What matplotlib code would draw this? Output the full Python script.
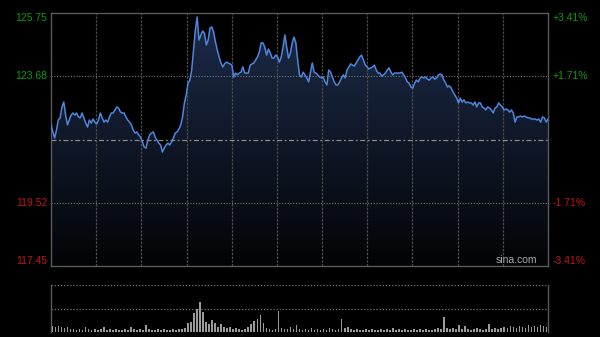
# intraday price chart with volume panel (sina style)
import numpy as np
import matplotlib
matplotlib.use("Agg")
import matplotlib.pyplot as plt
from matplotlib.colors import LinearSegmentedColormap

plt.rcParams['font.family'] = ['Liberation Sans', 'DejaVu Sans']

# price scale
prev_close = 121.60
y_low, y_high = 117.45, 125.75
left_ticks = [125.75, 123.68, 119.52, 117.45]
left_labels = ['125.75', '123.68', '119.52', '117.45']
right_labels = ['+3.41%', '+1.71%', '-1.71%', '-3.41%']

# intraday prices (session of 330 minutes)
prices = [
    122.08, 121.85, 121.65, 121.91, 122.24, 122.31, 122.67, 122.83, 122.40, 122.08,
    122.24, 122.40, 122.47, 122.40, 122.47, 122.34, 122.31, 122.47, 122.31, 122.14,
    122.01, 122.24, 122.14, 122.27, 122.17, 122.11, 122.24, 122.47, 122.31, 122.17,
    122.24, 122.17, 122.34, 122.47, 122.47, 122.57, 122.67, 122.63, 122.50, 122.47,
    122.47, 122.34, 122.24, 122.17, 122.08, 121.91, 121.81, 121.85, 121.75, 121.68,
    121.52, 121.35, 121.32, 121.58, 121.75, 121.81, 121.85, 121.68, 121.58, 121.48,
    121.42, 121.19, 121.32, 121.42, 121.48, 121.42, 121.52, 121.65, 121.81, 121.85,
    121.94, 122.08, 122.34, 122.80, 123.06,
    123.45, 123.55, 123.88, 124.54, 125.19, 125.62, 124.86, 125.03, 125.16, 125.09,
    124.70, 124.86, 125.26, 125.29, 125.13, 124.80, 124.54, 124.31, 124.11, 123.98,
    124.08, 124.14, 124.11, 124.08, 124.04, 123.65, 123.78, 123.72, 123.78, 123.81,
    123.98, 123.78, 123.78, 123.78, 124.04, 124.08, 124.11, 124.21, 124.31, 124.47,
    124.77, 124.77, 124.63, 124.37, 124.57, 124.44, 124.27, 124.27, 124.37, 124.31,
    124.14, 124.31, 124.63, 125.03, 124.63, 124.27, 124.44, 124.77, 124.96, 124.77,
    124.21, 123.72, 123.65, 123.81, 123.72, 123.62,
    123.49, 123.81, 124.11, 123.81, 123.78, 123.72, 123.65, 123.62, 123.65, 123.49,
    123.39, 123.88, 123.81, 123.65, 123.49, 123.39, 123.39, 123.49, 123.62, 123.72,
    123.62, 123.88, 123.98, 124.08, 124.04, 124.01, 124.11, 124.21, 124.31, 124.37,
    124.21, 124.04, 123.98, 123.91, 123.95, 123.98, 124.04, 123.88, 123.78, 123.78,
    123.68, 123.72, 123.78, 123.88, 123.95, 123.81, 123.72, 123.78, 123.78, 123.78,
    123.78, 123.81, 123.72, 123.62, 123.49, 123.45, 123.32, 123.29, 123.45, 123.55,
    123.49, 123.62, 123.65, 123.62, 123.65, 123.58,
    123.55, 123.62, 123.65, 123.58, 123.62, 123.72, 123.75, 123.72, 123.55, 123.45,
    123.32, 123.36, 123.29, 123.16, 123.06, 122.96, 122.80, 122.96, 122.83, 122.90,
    122.80, 122.83, 122.80, 122.80, 122.73, 122.83, 122.67, 122.80, 122.80, 122.67,
    122.63, 122.57, 122.67, 122.63, 122.57, 122.47, 122.63, 122.67, 122.80, 122.73,
    122.67, 122.57, 122.60, 122.57, 122.50, 122.57, 122.47, 122.17, 122.34, 122.34,
    122.37, 122.34, 122.37, 122.34, 122.31, 122.31, 122.27, 122.27, 122.27, 122.24,
    122.27, 122.17, 122.34, 122.31, 122.17, 122.27,
]

# volume, one value per 2 minutes (arbitrary units)
volume = [
    6, 5, 6, 5, 4, 5, 3, 3, 2, 3, 2, 5, 3, 2, 3, 2, 3, 5, 2, 3,
    2, 3, 2, 2, 3, 2, 5, 3, 2, 3, 2, 7, 3, 2, 2, 3, 2, 3, 2, 2,
    3, 2, 3, 3, 4, 9, 10, 19, 24, 31, 20, 10, 8, 12, 9, 5, 8, 5, 4, 5,
    3, 4, 3, 2, 3, 5, 8, 11, 13, 17, 9, 4, 3, 2, 3, 21, 4, 3, 3, 5,
    3, 7, 3, 2, 3, 2, 4, 2, 3, 2, 3, 2, 4, 3, 2, 3, 13, 4, 5, 3,
    2, 3, 2, 2, 3, 2, 3, 2, 2, 3, 2, 3, 2, 4, 2, 3, 2, 3, 2, 2,
    3, 2, 3, 2, 3, 2, 2, 3, 4, 3, 15, 4, 3, 4, 3, 7, 3, 6, 3, 2,
    3, 4, 3, 2, 3, 8, 3, 4, 3, 4, 5, 4, 6, 5, 4, 6, 5, 4, 7, 5,
    6, 5, 7, 6, 5,
]

session_minutes = 330
vol_max = 48

fig = plt.figure(figsize=(6, 3.37), dpi=100, facecolor='black')
ax = fig.add_axes([51 / 600, 1 - 266 / 337, 497 / 600, 253 / 337])
axv = fig.add_axes([51 / 600, 1 - 332 / 337, 497 / 600, 47 / 337])

for a in (ax, axv):
    a.set_facecolor('black')
    a.set_xticks([])
    a.set_yticks([])
    a.set_xlim(0, session_minutes)

# ---- price panel ----
x = np.linspace(0, session_minutes, len(prices))
ax.set_ylim(y_low, y_high)

grad = np.linspace(1, 0, 256).reshape(-1, 1)
cmap = LinearSegmentedColormap.from_list('fade', ['#030406', '#1d2c4b'])
im = ax.imshow(grad, extent=[0, session_minutes, y_low, y_high], aspect='auto',
               cmap=cmap, zorder=1)
area = ax.fill_between(x, prices, y_low, color='none', lw=0)
im.set_clip_path(area.get_paths()[0], transform=ax.transData)

for t in range(30, session_minutes, 30):
    ax.axvline(t, color='#4a4a4a', lw=0.9, ls=(0, (2, 1)), zorder=2)
for p in (123.68, 119.52):
    ax.axhline(p, color='#777777', lw=0.8, ls=(0, (1, 1.5)), zorder=2)
ax.axhline(prev_close, color='#8a8a8a', lw=0.9, ls=(0, (4, 2, 1.5, 2)), zorder=2)

ax.plot(x, prices, color='#4f86db', lw=1.1, zorder=3)

for s in ax.spines.values():
    s.set_color('#5a5a5a')
    s.set_linewidth(1)

tr = ax.get_yaxis_transform()
for i, (p, l, r) in enumerate(zip(left_ticks, left_labels, right_labels)):
    va = 'top' if i == 0 else ('bottom' if i == 3 else 'center')
    col = '#0f9a0f' if p > prev_close else '#c41414'
    ax.text(-0.007, p, l, transform=tr, ha='right', va=va, color=col, fontsize=7.5)
    ax.text(1.01, p, r, transform=tr, ha='left', va=va, color=col, fontsize=7.5)

ax.text(0.978, 0.004, 'sina.com', transform=ax.transAxes, ha='right', va='bottom',
        color='#aaaaaa', fontsize=7.5, zorder=4)

# ---- volume panel ----
xv = np.linspace(1, session_minutes - 1, len(volume))
axv.set_ylim(0, vol_max)
axv.bar(xv, volume, width=1.1, color='#9a9a9a', zorder=3)
for v in (vol_max, vol_max / 2):
    axv.axhline(v, color='#777777', lw=0.9, ls=(0, (1, 1.5)), zorder=2)
for k in ('top', 'bottom'):
    axv.spines[k].set_visible(False)
for k in ('left', 'right'):
    axv.spines[k].set_color('#5a5a5a')
    axv.spines[k].set_linewidth(1)

fig.savefig('out.png', dpi=100, facecolor='black')
